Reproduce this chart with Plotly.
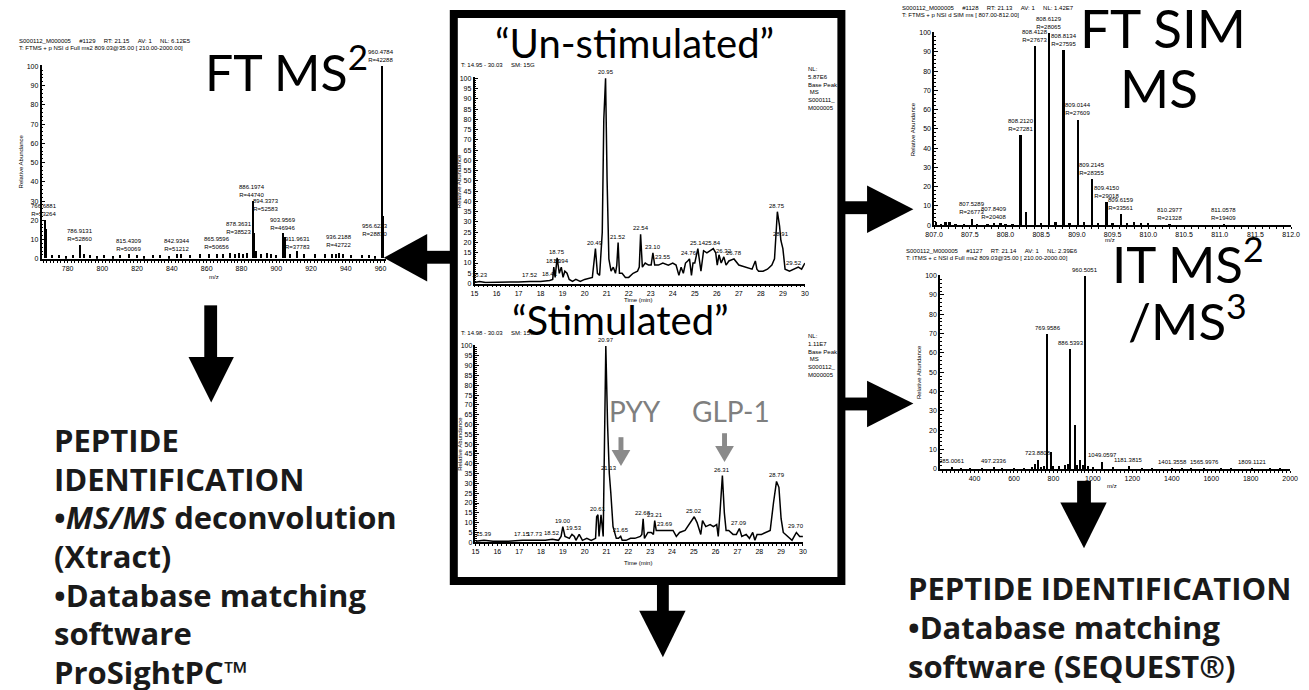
import plotly.graph_objects as go

W, H = 1309, 690

# ---------------- DATA ----------------
# FT MS2 spectrum (scan #1129): m/z and relative abundance
ftms2_mz = [766.69, 767.3, 771.0, 775.0, 779.0, 783.0, 786.91, 789.0, 793.0, 797.0,
            801.0, 806.0, 810.0, 815.43, 820.0, 824.0, 829.0, 833.0, 838.0, 842.93,
            845.0, 850.0, 856.0, 861.0, 865.96, 869.0, 873.0, 876.0, 878.36, 881.0,
            883.0, 886.20, 887.2, 888.2, 891.0, 894.34, 897.0, 900.0, 903.96, 904.9,
            908.0, 911.96, 916.0, 922.0, 928.0, 932.0, 934.0, 936.22, 938.0, 943.0,
            949.0, 953.0, 956.62, 960.48, 961.0, 961.5]
ftms2_int = [20, 15, 1.5, 1.5, 1.0, 1.5, 7, 2, 1.5, 1.0,
             1.5, 1.0, 1.5, 2, 1.5, 1.0, 1.5, 1.5, 1.0, 2,
             2.5, 1.5, 2, 2, 2.5, 2, 3, 2.5, 3, 2.5,
             3, 30, 13, 4, 2, 3, 2, 1.5, 13, 11,
             2, 4, 2, 2, 2, 2, 2.5, 3, 2.5, 1.5,
             1.5, 1.5, 1, 100, 22, 3]
ftms2_lab_mz = [766.6881, 786.9131, 815.4309, 842.9344, 865.9596, 878.3631, 886.1974,
                894.3373, 903.9569, 911.9631, 936.2188, 956.6223, 960.4784]
ftms2_lab_res = [53264, 52860, 50069, 51212, 50656, 38523, 44740,
                 52583, 46946, 37783, 42722, 28830, 42288]
ftms2_lab_lvl = [20, 7, 2, 2, 3, 11, 30, 23, 13, 3, 4, 10, 100]

# Base peak chromatogram, un-stimulated (S000111_M000005)
unstim_t = [15.00, 15.23, 15.50, 16.00, 16.50, 17.00, 17.52, 18.00, 18.41, 18.55,
            18.60, 18.66, 18.75, 18.85, 18.94, 19.02, 19.10, 19.20, 19.30, 19.45,
            19.60, 19.80, 20.00, 20.20, 20.35, 20.49, 20.58, 20.68, 20.80, 20.87,
            20.95, 21.02, 21.10, 21.20, 21.30, 21.40, 21.46, 21.52, 21.58, 21.70,
            21.85, 22.00, 22.20, 22.40, 22.48, 22.54, 22.62, 22.75, 22.90, 23.02,
            23.10, 23.18, 23.35, 23.55, 23.80, 24.00, 24.15, 24.28, 24.38, 24.48,
            24.58, 24.68, 24.76, 24.85, 24.92, 25.00, 25.14, 25.28, 25.40, 25.55,
            25.70, 25.84, 25.95, 26.02, 26.10, 26.20, 26.32, 26.42, 26.55, 26.78,
            27.00, 27.30, 27.60, 27.75, 27.82, 27.90, 28.10, 28.30, 28.50, 28.62,
            28.75, 28.85, 28.91, 29.00, 29.10, 29.30, 29.52, 29.70, 29.85, 30.00]
unstim_i = [0.5, 1.0, 0.5, 0.5, 0.5, 0.8, 1.0, 1.0, 1.5, 2.0,
            8.0, 3.0, 12.5, 5.0, 8.0, 3.0, 6.0, 5.0, 2.0, 1.0,
            2.0, 1.0, 2.0, 2.5, 3.0, 17.0, 5.0, 4.0, 25.0, 80.0,
            100, 50, 12, 6, 8, 5, 9, 20, 5, 5,
            3, 3, 5, 6, 8, 24, 8, 10, 9, 9,
            15, 9, 9, 10, 9, 10, 9, 4, 8, 5,
            10, 11, 12, 4, 10, 10, 17, 6, 16, 15,
            16, 17, 15, 9, 14, 10, 13, 9, 11, 12,
            9, 8, 7, 11, 7, 6, 6, 7, 9, 12,
            35, 28, 21, 17, 7, 6, 7, 8, 7, 10]
unstim_lab_t = [15.23, 17.52, 18.41, 18.60, 18.75, 18.94, 20.49, 20.95, 21.52, 22.54,
                23.10, 23.55, 24.76, 25.14, 25.84, 26.32, 26.78, 28.75, 28.91, 29.52]
unstim_lab_i = [1, 1, 1.5, 8, 12.5, 8, 17, 100, 20, 24,
                15, 10, 12, 17, 17, 13, 12, 35, 21, 7]

# Base peak chromatogram, stimulated (S000112_M000005)
stim_t = [15.00, 15.39, 15.80, 16.50, 17.15, 17.73, 18.20, 18.52, 18.80, 18.92,
          19.00, 19.10, 19.30, 19.42, 19.53, 19.60, 19.75, 19.90, 20.10, 20.30,
          20.50, 20.55, 20.61, 20.66, 20.75, 20.85, 20.90, 20.97, 21.05, 21.13,
          21.20, 21.30, 21.45, 21.55, 21.65, 21.72, 21.90, 22.10, 22.30, 22.55,
          22.62, 22.68, 22.74, 22.90, 23.05, 23.15, 23.21, 23.28, 23.45, 23.69,
          23.90, 24.05, 24.20, 24.35, 24.60, 24.85, 25.02, 25.15, 25.25, 25.32,
          25.40, 25.55, 25.75, 25.90, 26.05, 26.12, 26.20, 26.31, 26.40, 26.48,
          26.60, 26.80, 26.95, 27.09, 27.20, 27.40, 27.55, 27.70, 27.80, 27.90,
          28.10, 28.30, 28.50, 28.65, 28.79, 28.90, 29.00, 29.10, 29.30, 29.50,
          29.60, 29.70, 29.85, 30.00]
stim_i = [0.5, 1.0, 0.5, 0.5, 1.0, 1.0, 1.0, 1.5, 1.0, 3.0,
          8.0, 3.0, 2.0, 4.0, 3.0, 1.0, 4.0, 1.0, 2.0, 1.0,
          2.0, 13.0, 14.0, 3.0, 14.0, 3.0, 50.0, 100.0, 60.0, 35.0,
          25, 8, 2, 2, 3, 1, 1, 2, 2, 3,
          4, 12, 2, 5, 5, 4, 11, 6, 6, 6,
          6, 6, 3, 5, 6, 10, 13, 10, 7, 4,
          11, 8, 9, 8, 9, 3, 15, 34, 15, 6,
          6, 4, 4, 7, 3, 4, 2, 5, 1, 4,
          4, 5, 6, 20, 31, 28, 12, 5, 3, 1,
          3, 5, 3, 3]
stim_lab_t = [15.39, 17.15, 17.73, 18.52, 19.00, 19.53, 20.61, 20.97, 21.13, 21.65,
              22.68, 23.21, 23.69, 25.02, 26.31, 27.09, 28.79, 29.70]
stim_lab_i = [1, 1, 1, 1.5, 8, 4, 14, 100, 35, 3,
              12, 11, 6, 13, 34, 7, 31, 5]

# FT SIM spectrum (scan #1128)
sim_mz = [807.03, 807.10, 807.16, 807.22, 807.30, 807.42, 807.5289, 807.60, 807.75, 807.8409,
          807.93, 808.00, 808.10, 808.2120, 808.29, 808.4128, 808.50, 808.6129, 808.70, 808.8134,
          808.90, 809.0144, 809.10, 809.2145, 809.30, 809.4150, 809.50, 809.6159, 809.70, 809.80,
          809.90, 810.00, 810.2977, 811.0578]
sim_int = [1.5, 0.5, 1.5, 1.5, 0.5, 0.5, 3.5, 0.5, 0.5, 1.0,
           1.0, 0.5, 0.5, 47, 7, 93, 1.0, 100, 1.5, 91,
           1.0, 55, 1.5, 24, 1.0, 12, 1.0, 6, 1.0, 1.5,
           1.0, 1.0, 0.5, 0.5]
sim_lab_mz = [807.5289, 807.8409, 808.2120, 808.4128, 808.6129, 808.8134,
              809.0144, 809.2145, 809.4150, 809.6159, 810.2977, 811.0578]
sim_lab_res = [26773, 20408, 27281, 27673, 28065, 27595,
               27609, 28355, 29018, 33561, 21328, 19409]
sim_lab_lvl = [3.5, 1, 47, 93, 100, 91, 55, 24, 12, 6, 0.5, 0.5]

# IT MS2 spectrum (scan #1127)
it_mz = [285.0, 330, 380, 440, 497.2, 540, 600, 650, 690, 709,
         723.88, 740, 755, 769.96, 788, 800, 830, 860, 875, 886.54,
         908, 920, 937, 948, 960.51, 975, 1000, 1049.06, 1100, 1181.38,
         1250, 1300, 1401.36, 1450, 1500, 1565.99, 1650, 1700, 1809.11, 1900, 1950]
it_int = [1, 0.5, 0.5, 0.8, 1, 0.5, 0.5, 0.8, 1, 2.5,
          5, 1, 1.5, 70, 9, 1.5, 1.5, 2, 3, 62,
          23, 2, 5, 2, 100, 1.5, 1, 4, 1, 1.5,
          0.5, 0.5, 0.7, 0.5, 0.5, 0.7, 0.5, 0.5, 0.7, 0.5, 0.5]
it_lab_mz = [285.0061, 497.2336, 723.8808, 769.9586, 886.5393, 960.5051,
             1049.0597, 1181.3815, 1401.3558, 1565.9976, 1809.1121]
it_lab_lvl = [1, 1, 5, 70, 62, 100, 4, 1.5, 0.7, 0.7, 0.7]

# ---------------- helpers ----------------
def px(x):
    return x / W


def py(y):
    return 1 - y / H


def sfx(n):
    return "" if n == 1 else str(n)


TICKFONT = dict(size=7, family="Liberation Sans", color="black")

panels = {
    # n: (x_left, x_right, y_top(100), y_bottom(0), xrange, xdtick, xminor, ydtick, yminor, xfmt)
    1: (33, 382, 63, 258, [765, 963], 20, 2, 10, 2, None),
    2: (472, 807, 75, 283, [15, 30], 1, 0.2, 5, 1, None),
    3: (473, 805, 345, 544, [15, 30], 1, 0.2, 5, 1, None),
    4: (938, 1300, 29, 224, [807, 812], 0.5, 0.1, 10, 2, ".1f"),
    5: (944, 1299, 274, 470, [225, 2000], 200, 20, 10, 2, None),
}

fig = go.Figure()

layout_axes = {}
for n, (xl, xr, yt, yb, xrange_, xd, xm, yd, ym, xfmt) in panels.items():
    xa = dict(domain=[px(xl), px(xr)], range=xrange_, anchor="y" + sfx(n),
              showline=True, linecolor="black", linewidth=1.5, mirror=False,
              ticks="outside", ticklen=2, tickwidth=1, tickcolor="black",
              dtick=xd, minor=dict(dtick=xm, ticklen=2, tickcolor="black", ticks="outside"),
              tickfont=TICKFONT, showgrid=False, zeroline=False, fixedrange=True)
    if xfmt:
        xa["tickformat"] = xfmt
    ya = dict(domain=[py(yb), py(yt)], range=[0, 100.5], anchor="x" + sfx(n),
              showline=True, linecolor="black", linewidth=1.5,
              ticks="inside", ticklen=4, tickwidth=1, tickcolor="black",
              dtick=yd, tick0=0, minor=dict(dtick=ym, ticklen=2, tickcolor="black", ticks="inside"),
              tickfont=TICKFONT, showgrid=False, zeroline=False, fixedrange=True)
    layout_axes["xaxis" + sfx(n)] = xa
    layout_axes["yaxis" + sfx(n)] = ya

# traces
fig.add_trace(go.Bar(x=ftms2_mz, y=ftms2_int, width=0.8, marker=dict(color="black", line=dict(width=0)),
                     xaxis="x", yaxis="y"))
fig.add_trace(go.Scatter(x=unstim_t, y=unstim_i, mode="lines", line=dict(color="black", width=1.5),
                         xaxis="x2", yaxis="y2"))
fig.add_trace(go.Scatter(x=stim_t, y=stim_i, mode="lines", line=dict(color="black", width=1.5),
                         xaxis="x3", yaxis="y3"))
fig.add_trace(go.Bar(x=sim_mz, y=sim_int, width=0.035, marker=dict(color="black", line=dict(width=0)),
                     xaxis="x4", yaxis="y4"))
fig.add_trace(go.Bar(x=it_mz, y=it_int, width=6, marker=dict(color="black", line=dict(width=0)),
                     xaxis="x5", yaxis="y5"))

anns = []


def text(x, y, s, size, family="Liberation Sans", color="black", xanchor="left",
         yanchor="middle", angle=0, align="left"):
    anns.append(dict(x=px(x), y=py(y), xref="paper", yref="paper", text=s, showarrow=False,
                     font=dict(size=size, family=family, color=color), xanchor=xanchor,
                     yanchor=yanchor, textangle=angle, align=align))


def peak_label(n, x, y, s):
    anns.append(dict(x=x, y=y, xref="x" + sfx(n), yref="y" + sfx(n), text=s, showarrow=False,
                     font=dict(size=6, family="Liberation Sans", color="black"),
                     xanchor="center", yanchor="bottom", align="center", yshift=1))


# peak labels
for mz, res, lvl in zip(ftms2_lab_mz, ftms2_lab_res, ftms2_lab_lvl):
    peak_label(1, mz, lvl, f"{mz:.4f}<br>R={res}")
for t, i in zip(unstim_lab_t, unstim_lab_i):
    peak_label(2, t, i, f"{t:.2f}")
for t, i in zip(stim_lab_t, stim_lab_i):
    peak_label(3, t, i, f"{t:.2f}")
for mz, res, lvl in zip(sim_lab_mz, sim_lab_res, sim_lab_lvl):
    peak_label(4, mz, lvl, f"{mz:.4f}<br>R={res}")
for mz, lvl in zip(it_lab_mz, it_lab_lvl):
    peak_label(5, mz, lvl, f"{mz:.4f}")

NB = "\u00a0"
sp = NB * 5
# scan headers
text(8, 38, f"S000112_M000005{sp}#1129{sp}RT:{NB}21.15{sp}AV:{NB}1{sp}NL:{NB}6.12E5", 6)
text(8, 45, "T:" + NB + "FTMS + p NSI d Full ms2 809.03@35.00 [ 210.00-2000.00]", 6)
text(903, 5, f"S000112_M000005{sp}#1128{sp}RT:{NB}21.13{sp}AV:{NB}1{sp}NL:{NB}1.42E7", 6)
text(903, 12, "T:" + NB + "FTMS + p NSI d SIM ms [ 807.00-812.00]", 6)
text(907, 250, f"S000112_M000005{sp}#1127{sp}RT:{NB}21.14{sp}AV:{NB}1{sp}NL:{NB}2.39E6", 6)
text(907, 257, "T:" + NB + "ITMS + c NSI d Full ms2 809.03@35.00 [ 210.00-2000.00]", 6)
text(456, 63, f"T:{NB}14.95{NB}-{NB}30.03{sp}SM:{NB}15G", 6)
text(456, 333, f"T:{NB}14.98{NB}-{NB}30.03{sp}SM:{NB}15G", 6)
text(808, 86, "NL:<br>5.87E6<br>Base Peak<br> MS<br>S000111_<br>M000005", 6)
text(808, 356, "NL:<br>1.11E7<br>Base Peak<br> MS<br>S000112_<br>M000005", 6)

# axis titles
text(12, 160, "Relative Abundance", 6, xanchor="center", angle=-90)
text(457, 180, "Relative Abundance", 6, xanchor="center", angle=-90)
text(457, 445, "Relative Abundance", 6, xanchor="center", angle=-90)
text(916, 127, "Relative Abundance", 6, xanchor="center", angle=-90)
text(922, 372, "Relative Abundance", 6, xanchor="center", angle=-90)
text(208, 276, "m/z", 6, xanchor="center")
text(1116, 239, "m/z", 6, xanchor="center")
text(1118, 487, "m/z", 6, xanchor="center")
text(638, 300, "Time (min)", 6, xanchor="center")
text(638, 565, "Time (min)", 6, xanchor="center")

# big panel titles
BIG = "Lato"
text(197, 66, "FT MS<sup>2</sup>", 50, family=BIG)
text(1170, 25, "FT SIM", 53, family=BIG, xanchor="center")
text(1166, 85, "MS", 53, family=BIG, xanchor="center")
text(1116, 260, "IT MS<sup>2</sup>", 51, family=BIG)
text(1133, 317, "/MS<sup>3</sup>", 51, family=BIG)
text(634, 40, "\u201cUn-stimulated\u201d", 40, family=BIG, xanchor="center")
text(620, 320, "\u201cStimulated\u201d", 40, family=BIG, xanchor="center")
text(635, 412, "PYY", 28, family=BIG, color="#7f7f7f", xanchor="center")
text(732, 412, "GLP-1", 28, family=BIG, color="#7f7f7f", xanchor="center")

# identification text blocks
BF = "Open Sans"
left_lines = ["<b>PEPTIDE</b>", "<b>IDENTIFICATION</b>", "<b>\u2022<i>MS/MS</i> deconvolution</b>",
              "<b>(Xtract)</b>", "<b>\u2022Database matching</b>", "<b>software</b>", "<b>ProSightPC\u2122</b>"]
for k, s in enumerate(left_lines):
    text(44, 441 + 39 * k, s, 31, family=BF, color="#1a1a1a")
right_lines = ["<b>PEPTIDE IDENTIFICATION</b>", "<b>\u2022Database matching</b>",
               "<b>software (SEQUEST\u00ae)</b>"]
for k, s in enumerate(right_lines):
    text(910, 590 + 39.5 * k, s, 31, family=BF, color="#1a1a1a")

# ---------------- shapes (frame and arrows) ----------------
shapes = []


def rect(x0, y0, x1, y1, fill="black", lw=0):
    shapes.append(dict(type="rect", xref="paper", yref="paper", x0=px(x0), x1=px(x1),
                       y0=py(y0), y1=py(y1), fillcolor=fill,
                       line=dict(width=lw, color="black"), layer="above"))


def poly(pts, fill="black"):
    path = "M " + " L ".join(f"{px(a):.5f},{py(b):.5f}" for a, b in pts) + " Z"
    shapes.append(dict(type="path", xref="paper", yref="paper", path=path, fillcolor=fill,
                       line=dict(width=0), layer="above"))


rect(451, 11, 844, 583, fill="rgba(0,0,0,0)", lw=8)
# left arrow
rect(420, 250, 449, 263)
poly([(380, 257), (424, 233), (424, 281)])
# right arrows
rect(844, 200, 872, 213)
poly([(870, 184), (870, 232), (917, 208)])
rect(844, 398, 872, 411)
poly([(870, 381), (870, 428), (917, 404)])
# down arrows
rect(198, 305, 211, 358)
poly([(182, 357), (228, 357), (205, 403)])
rect(657, 583, 669, 614)
poly([(639, 613), (686, 613), (663, 660)])
rect(1083, 482, 1097, 505)
poly([(1066, 504), (1113, 504), (1090, 550)])
# grey pointer arrows
GREY = "#8a8a8a"
rect(618, 438, 623, 452, fill=GREY)
poly([(611, 451), (630, 451), (620.5, 467)], fill=GREY)
rect(723, 434, 728, 448, fill=GREY)
poly([(716, 447), (735, 447), (725.5, 463)], fill=GREY)

fig.update_layout(width=W, height=H, margin=dict(l=0, r=0, t=0, b=0),
                  paper_bgcolor="white", plot_bgcolor="white", showlegend=False,
                  bargap=0, annotations=anns, shapes=shapes, **layout_axes)

fig.write_html("out.html", config=dict(displayModeBar=False))
